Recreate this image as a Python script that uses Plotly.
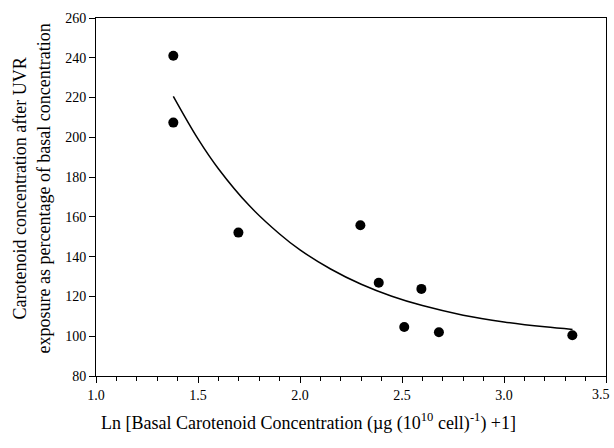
import plotly.graph_objects as go

# Measured data points
ln_basal = [1.379, 1.379, 1.698, 2.296, 2.386, 2.595, 2.511, 2.681, 3.335]
pct_after_uvr = [241.0, 207.4, 152.1, 155.8, 126.9, 123.8, 104.6, 102.0, 100.5]

# Fitted curve
curve_x = [1.379, 1.5, 1.6, 1.75, 1.9, 2.0, 2.15, 2.3, 2.45, 2.6, 2.8, 3.0, 3.2, 3.336]
curve_y = [220.6, 199.2, 184.2, 165.8, 151.4, 143.4, 133.8, 126.1, 120.1, 115.4, 110.6, 107.2, 104.7, 103.4]

x_ticks = [1.0, 1.5, 2.0, 2.5, 3.0, 3.5]
x_tick_labels = ["1.0", "1.5", "2.0", "2.5", "3.0", "3.5"]
y_ticks = [80, 100, 120, 140, 160, 180, 200, 220, 240, 260]

FONT = "Liberation Serif, Times New Roman, serif"

fig = go.Figure()
fig.add_trace(go.Scatter(x=curve_x, y=curve_y, mode="lines",
                         line=dict(color="black", width=1.5, shape="spline"),
                         showlegend=False, hoverinfo="skip"))
fig.add_trace(go.Scatter(x=ln_basal, y=pct_after_uvr, mode="markers",
                         marker=dict(color="black", size=10),
                         showlegend=False))

# the last tick label sits at the page edge; it is drawn as a right-anchored
# annotation so it stays inside the page
axis_labels = x_tick_labels[:-1] + [""]

fig.update_layout(
    width=614, height=448,
    margin=dict(l=96, r=8, t=18, b=72),
    plot_bgcolor="white", paper_bgcolor="white",
    font=dict(family=FONT, size=14, color="black"),
    xaxis=dict(range=[1.0, 3.5], tickvals=x_ticks, ticktext=axis_labels,
               showgrid=False, zeroline=False, showline=True, linecolor="black",
               linewidth=1, mirror=True, ticks="outside", ticklen=6, tickwidth=1,
               tickcolor="black",
               minor=dict(dtick=0.1, ticks="outside", ticklen=4, tickcolor="black", showgrid=False),
               tickfont=dict(family=FONT, size=14)),
    yaxis=dict(range=[80, 260], tickvals=y_ticks,
               showgrid=False, zeroline=False, showline=True, linecolor="black",
               linewidth=1, mirror=True, ticks="outside", ticklen=6, tickwidth=1,
               tickcolor="black", tickfont=dict(family=FONT, size=14)),
    annotations=[
        dict(text=x_tick_labels[-1], x=1.0118, y=-0.0503, xref="paper", yref="paper",
             xanchor="right", yanchor="middle", showarrow=False,
             font=dict(family=FONT, size=14)),
        dict(text="Ln [Basal Carotenoid Concentration (µg (10<sup>10</sup> cell)<sup>-1</sup>) +1]",
             x=0.416, y=-0.128, xref="paper", yref="paper", xanchor="center", yanchor="middle",
             showarrow=False, font=dict(family=FONT, size=18)),
        dict(text="Carotenoid concentration after UVR<br>exposure as percentage of basal concentration",
             x=-0.1265, y=0.525, xref="paper", yref="paper", xanchor="center", yanchor="middle",
             textangle=-90, showarrow=False, font=dict(family=FONT, size=18)),
    ],
)

post = (
    "document.body.style.margin='0';"
    "document.body.style.overflow='hidden';"
)

fig.write_html("out.html", config={"displayModeBar": False}, post_script=post)
